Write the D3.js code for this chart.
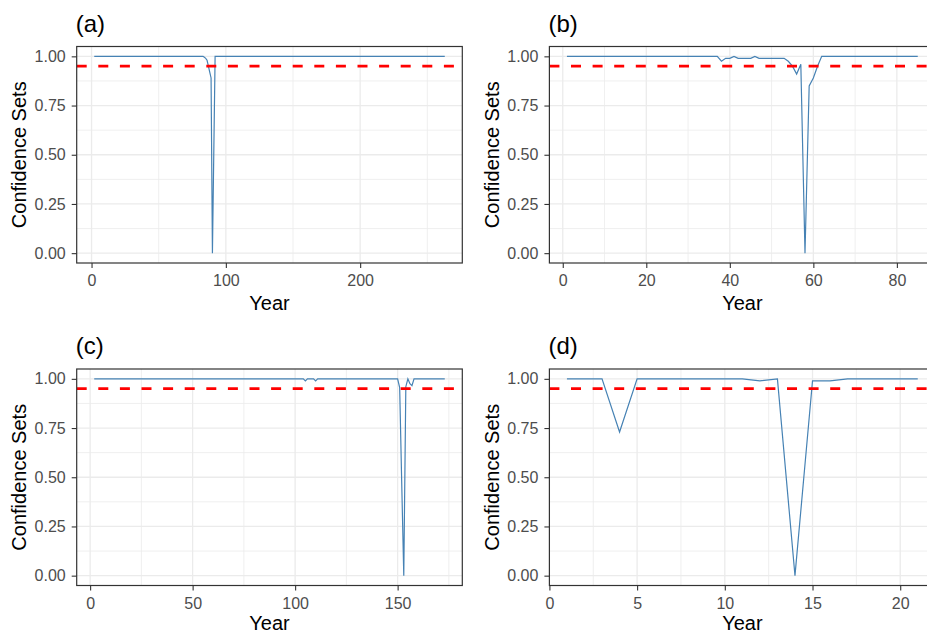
<!DOCTYPE html>
<html><head><meta charset="utf-8">
<script src="https://cdn.jsdelivr.net/npm/d3@7"></script>
<style>body{margin:0;background:#fff} svg{display:block} text{font-family:"Liberation Sans",Arial,sans-serif}</style>
</head><body>
<svg id="chart" width="927" height="634"></svg>
<script>
// ---- data ----
const yearsA = [2, 83, 84, 85, 86, 87, 88, 89, 90, 91, 92, 263];
const confA  = [1, 1, 0.995, 0.99, 0.98, 0.95, 0.92, 0.89, 0, 0.5, 1, 1];
const yearsB = [1, 37, 38, 39, 40, 41, 42, 45, 46, 47, 53, 54, 55, 56, 57, 58, 59, 60, 61, 62, 85];
const confB  = [1, 1, 0.975, 0.99, 0.99, 1, 0.99, 0.99, 1, 0.99, 0.99, 0.975, 0.95, 0.91, 0.96, 0, 0.85, 0.89, 0.95, 1, 1];
const yearsC = [2, 104, 105, 106, 109, 110, 111, 150, 151, 152, 153, 154, 155, 156, 157, 158, 173];
const confC  = [1, 1, 0.99, 1, 1, 0.99, 1, 1, 0.955, 0.47, 0, 0.96, 1, 0.975, 0.965, 1, 1];
const yearsD = [1, 3, 4, 5, 11, 12, 13, 14, 15, 16, 17, 21];
const confD  = [1, 1, 0.73, 1, 1, 0.99, 1, 0, 0.99, 0.99, 1, 1];

const xTicksA = [0, 100, 200];
const xTicksB = [0, 20, 40, 60, 80];
const xTicksC = [0, 50, 100, 150];
const xTicksD = [0, 5, 10, 15, 20];
const yTicks  = [0, 0.25, 0.5, 0.75, 1];
const threshold = 0.95;
const panelLabels = ["(a)", "(b)", "(c)", "(d)"];
const xTitle = "Year";
const yTitle = "Confidence Sets";

// ---- layout ----
const svg = d3.select("#chart");
svg.append("rect").attr("width", 927).attr("height", 634).attr("fill", "#fff");

const cols = [{L: 76.7, R: 462.3}, {L: 549.4, R: 935.3}];
const rows = [{T: 46.5, B: 263, yt: 46.5}, {T: 369, B: 585.5, yt: 44}];

const panels = [
  {label: panelLabels[0], years: yearsA, conf: confA, ticks: xTicksA, c: cols[0], r: rows[0]},
  {label: panelLabels[1], years: yearsB, conf: confB, ticks: xTicksB, c: cols[1], r: rows[0]},
  {label: panelLabels[2], years: yearsC, conf: confC, ticks: xTicksC, c: cols[0], r: rows[1]},
  {label: panelLabels[3], years: yearsD, conf: confD, ticks: xTicksD, c: cols[1], r: rows[1]}
];

function expand(ext) { const d = (ext[1] - ext[0]) * 0.05; return [ext[0] - d, ext[1] + d]; }
function minorOf(ticks, dom) {
  const step = ticks[1] - ticks[0];
  const out = [];
  for (let i = -1; i < ticks.length; i++) {
    const m = ticks[0] + step * (i + 0.5);
    if (m >= dom[0] && m <= dom[1]) out.push(m);
  }
  return out;
}

panels.forEach((p, i) => {
  const L = p.c.L, R = p.c.R, T = p.r.T, B = p.r.B;
  const xd = expand(d3.extent(p.years));
  const x = d3.scaleLinear().domain(xd).range([L, R]);
  const y = d3.scaleLinear().domain([-0.05, 1.05]).range([B, T]);
  const g = svg.append("g");

  const clipId = "clip" + i;
  svg.append("clipPath").attr("id", clipId).append("rect")
    .attr("x", L).attr("y", T).attr("width", R - L).attr("height", B - T);
  const pg = g.append("g").attr("clip-path", `url(#${clipId})`);

  // minor grid
  const xMinor = minorOf(p.ticks, xd);
  const yMinor = minorOf(yTicks, [-0.05, 1.05]);
  pg.selectAll(".vmin").data(xMinor).join("line")
    .attr("x1", d => x(d)).attr("x2", d => x(d)).attr("y1", T).attr("y2", B)
    .attr("stroke", "#ebebeb").attr("stroke-width", 0.8);
  pg.selectAll(".hmin").data(yMinor).join("line")
    .attr("x1", L).attr("x2", R).attr("y1", d => y(d)).attr("y2", d => y(d))
    .attr("stroke", "#ebebeb").attr("stroke-width", 0.8);
  // major grid
  pg.selectAll(".vmaj").data(p.ticks).join("line")
    .attr("x1", d => x(d)).attr("x2", d => x(d)).attr("y1", T).attr("y2", B)
    .attr("stroke", "#ebebeb").attr("stroke-width", 1.3);
  pg.selectAll(".hmaj").data(yTicks).join("line")
    .attr("x1", L).attr("x2", R).attr("y1", d => y(d)).attr("y2", d => y(d))
    .attr("stroke", "#ebebeb").attr("stroke-width", 1.3);

  // data line
  const pts = p.years.map((yr, k) => [yr, p.conf[k]]);
  pg.append("path").datum(pts)
    .attr("d", d3.line().x(d => x(d[0])).y(d => y(d[1])))
    .attr("fill", "none").attr("stroke", "#4682B4").attr("stroke-width", 1.2)
    .attr("stroke-linejoin", "miter");

  // threshold
  pg.append("line").attr("x1", L).attr("x2", R)
    .attr("y1", y(threshold)).attr("y2", y(threshold))
    .attr("stroke", "#ff0000").attr("stroke-width", 2.7)
    .attr("stroke-dasharray", "10,11.6");

  // border
  g.append("rect").attr("x", L).attr("y", T).attr("width", R - L).attr("height", B - T)
    .attr("fill", "none").attr("stroke", "#333333").attr("stroke-width", 1.2);

  // axes
  const ax = g.append("g").attr("transform", `translate(0,${B})`)
    .call(d3.axisBottom(x).tickValues(p.ticks).tickSize(5).tickPadding(7).tickFormat(d3.format("d")));
  const ay = g.append("g").attr("transform", `translate(${L},0)`)
    .call(d3.axisLeft(y).tickValues(yTicks).tickSize(5).tickPadding(6).tickFormat(d3.format(".2f")));
  [ax, ay].forEach(a => {
    a.select(".domain").remove();
    a.selectAll(".tick line").attr("stroke", "#333333").attr("stroke-width", 1.1);
    a.selectAll(".tick text").attr("fill", "#4d4d4d").attr("font-size", 16)
      .style("font-family", '"Liberation Sans", Arial, sans-serif');
  });

  // titles
  g.append("text").attr("x", (L + R) / 2).attr("y", B + p.r.yt).attr("text-anchor", "middle")
    .attr("font-size", 20).attr("fill", "#000").text(xTitle);
  g.append("text").attr("transform", `translate(${L - 50.7},${(T + B) / 2}) rotate(-90)`)
    .attr("text-anchor", "middle").attr("font-size", 20).attr("fill", "#000").text(yTitle);
  g.append("text").attr("x", L - 1).attr("y", T - 15)
    .attr("font-size", 24).attr("fill", "#000").text(p.label);
});
</script>
</body></html>
